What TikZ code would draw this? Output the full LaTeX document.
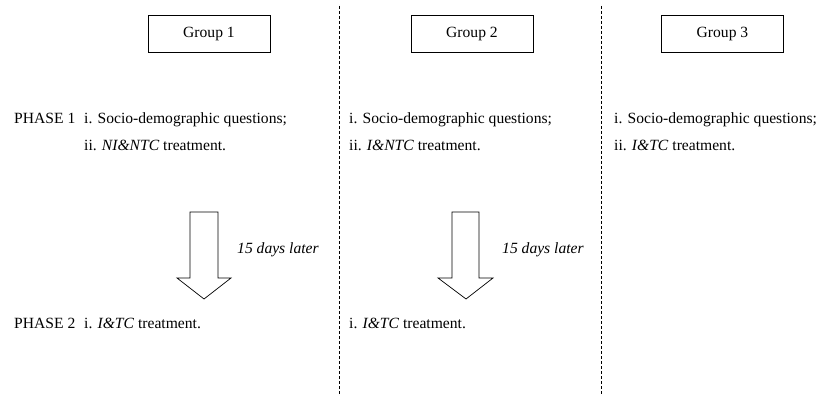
\documentclass[tikz,border=0pt]{standalone}
\usepackage{fontspec}
\setmainfont{Liberation Serif}
\begin{document}
\begin{tikzpicture}[x=1pt,y=-1pt,font=\fontsize{15.6}{17}\selectfont]
		\tikzset{grp/.style={draw,thick,minimum width=122pt,minimum height=37pt,inner sep=0pt},
			txt/.style={anchor=base west,inner sep=0pt},
			sep/.style={dash pattern=on 3pt off 2pt,line width=0.7pt}}
		\useasboundingbox (0,0) rectangle (826,395);
		% group boxes
		\node[grp] (g1) at (209,33.5) {Group 1};
		\node[grp] (g2) at (472,33.5) {Group 2};
		\node[grp] (g3) at (722.5,33.5) {Group 3};
		% separators
		\coordinate (s1t) at (339,6); \coordinate (s1b) at (339,395);
		\coordinate (s2t) at (601,6); \coordinate (s2b) at (601,395);
		\draw[sep] (s1t) -- (s1b);
		\draw[sep] (s2t) -- (s2b);
		% phase 1
		\node[txt] (p1) at (14,124) {PHASE 1};
		\node[txt] (a1) at (84,124) {i. Socio-demographic questions;};
		\node[txt] (a2) at (84,151) {ii. \textit{NI\&NTC} treatment.};
		\node[txt] (b1) at (349,124) {i. Socio-demographic questions;};
		\node[txt] (b2) at (349,151) {ii. \textit{I\&NTC} treatment.};
		\node[txt] (c1) at (614,124) {i. Socio-demographic questions;};
		\node[txt] (c2) at (614,151) {ii. \textit{I\&TC} treatment.};
		% block arrows
		\draw[line width=0.7pt] (190,212) -- (218,212) -- (218,278) -- (231,278) -- (204,299) -- (177,278) -- (190,278) -- cycle;
		\draw[line width=0.7pt] (452,212) -- (479,212) -- (479,278) -- (493,278) -- (466,299) -- (438,278) -- (452,278) -- cycle;
		\node[txt] (d1) at (237,253) {\textit{15 days later}};
		\node[txt] (d2) at (502,253) {\textit{15 days later}};
		% phase 2
		\node[txt] (p2) at (14,328) {PHASE 2};
		\node[txt] (e1) at (84,328) {i. \textit{I\&TC} treatment.};
		\node[txt] (f1) at (349,328) {i. \textit{I\&TC} treatment.};
\end{tikzpicture}
\end{document}
